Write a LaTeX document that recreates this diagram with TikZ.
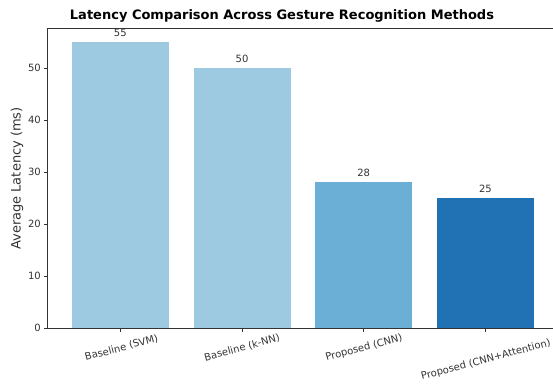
\documentclass[tikz,border=0pt]{standalone}
\usepackage{fontspec}
\setmainfont{DejaVu Sans}
\definecolor{barlight}{HTML}{9ECAE1}
\definecolor{barmid}{HTML}{6BAED6}
\definecolor{bardark}{HTML}{2171B5}
\definecolor{axisgray}{HTML}{333333}
\begin{document}
\begin{tikzpicture}[x=1pt,y=1pt,
  bar/.style={draw=none,inner sep=0pt,minimum width=97pt,anchor=south},
  ticklab/.style={font=\fontsize{10}{12}\selectfont,text=axisgray,inner sep=0pt},
  xlab/.style={font=\fontsize{10}{12}\selectfont,text=axisgray,inner sep=0pt,rotate=15},
  vallab/.style={font=\fontsize{10}{12}\selectfont,text=axisgray,inner sep=0pt,anchor=south},
  spine/.style={draw=axisgray,line width=0.9pt},
  tickmark/.style={draw=axisgray,line width=0.8pt}]
\useasboundingbox (0,0) rectangle (553,386);
% data scale: 5.2pt per ms, origin of axes at (47,58)
\coordinate (origin) at (47,58);
% bars
\node[bar,fill=barlight,minimum height=286pt] (b1) at (120.3,58) {};
\node[bar,fill=barlight,minimum height=260pt] (b2) at (242,58) {};
\node[bar,fill=barmid,minimum height=145.6pt] (b3) at (363.7,58) {};
\node[bar,fill=bardark,minimum height=130pt] (b4) at (485.4,58) {};
% value labels
\node[vallab,yshift=5pt] (v1) at (b1.north) {55};
\node[vallab,yshift=5pt] (v2) at (b2.north) {50};
\node[vallab,yshift=5pt] (v3) at (b3.north) {28};
\node[vallab,yshift=5pt] (v4) at (b4.north) {25};
% spines
\coordinate (tl) at (47,358);
\coordinate (tr) at (553,358);
\coordinate (br) at (553,58);
\draw[spine] (tr) -- (tl) -- (origin) -- (br);
% y ticks
\foreach \v in {0,10,20,30,40,50}{
  \coordinate (yt\v) at (47,58+5.2*\v);
  \draw[tickmark] (yt\v) -- ++(-3.5,0);
  \node[ticklab,anchor=east] (yl\v) at ([xshift=-6pt]yt\v) {\v};
}
% x ticks
\foreach \n/\x in {1/120.3,2/242,3/363.7,4/485.4}{
  \coordinate (xt\n) at (\x,58);
  \draw[tickmark] (xt\n) -- ++(0,-3.5);
}
% category labels
\node[xlab] (c1) at (121.5,38) {Baseline (SVM)};
\node[xlab] (c2) at (242,38) {Baseline (k-NN)};
\node[xlab] (c3) at (364,38) {Proposed (CNN)};
\node[xlab] (c4) at (486,26) {Proposed (CNN+Attention)};
% axis title and chart title
\node[font=\fontsize{13}{15}\selectfont,text=axisgray,rotate=90,inner sep=0pt] (ylab) at (17,207.5) {Average Latency (ms)};
\node[font=\fontsize{13}{15}\selectfont\bfseries,inner sep=0pt] (title) at (282,370) {Latency Comparison Across Gesture Recognition Methods};
\end{tikzpicture}
\end{document}
